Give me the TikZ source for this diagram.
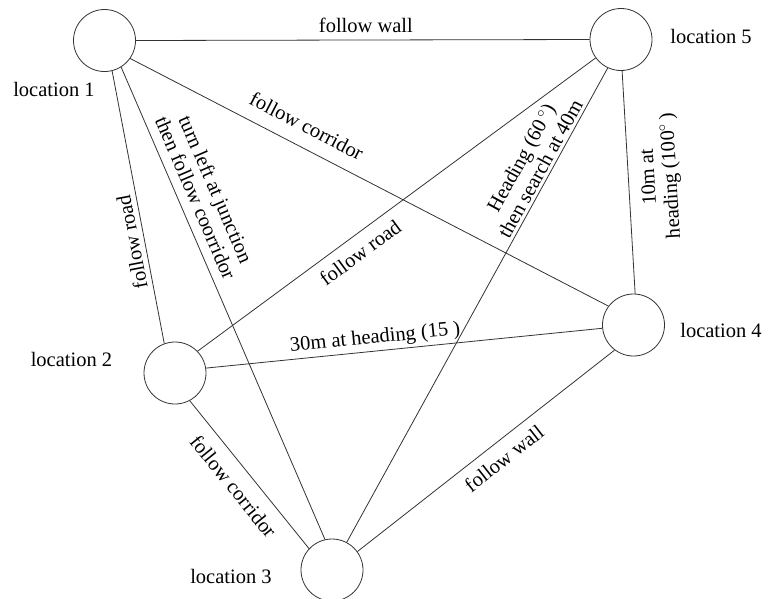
\documentclass[tikz,border=0pt]{standalone}
\usepackage{fontspec}
\setmainfont{Liberation Serif}
\begin{document}
\begin{tikzpicture}[x=1pt,y=-1pt,
  loc/.style={circle,draw=black!80,line width=0.8pt,minimum size=62pt,inner sep=0pt},
  locname/.style={font=\fontsize{20.5}{22}\selectfont,inner sep=0pt},
  edge/.style={draw=black!80,line width=0.8pt},
  lbl/.style={font=\fontsize{20.5}{22}\selectfont,inner sep=2pt,sloped,align=center}]
\useasboundingbox (0,0) rectangle (768,598);
\fill[white] (0,0) rectangle (768,598);
% locations
\node[loc] (l1) at (104.5,40.5) {};
\node[loc] (l5) at (621,39.5) {};
\node[loc] (l4) at (633.5,325) {};
\node[loc] (l2) at (175,373) {};
\node[loc] (l3) at (332,570) {};
\node[locname] (n1) at (54,89.5) {location 1};
\node[locname] (n5) at (711,36) {location 5};
\node[locname] (n4) at (721,330.5) {location 4};
\node[locname] (n2) at (71.5,359.5) {location 2};
\node[locname] (n3) at (231,576) {location 3};
% connectors
\path[edge] (l1.0) -- node[lbl,pos=0.507,above=5pt] {follow wall} (l5.180);
\path[edge] (l2.110.6) -- node[lbl,pos=0.381,above=3pt,allow upside down] {follow road} (l1.-76.7);
\path[edge] (l1.-58.3) -- node[lbl,pos=0.291,above=7pt] {turn left at junction\\then follow coorridor} (l3.103);
\path[edge] (l1.-35.6) -- node[lbl,pos=0.349,above=11.5pt] {follow corridor} (l4.143);
\path[edge] (l2.44.4) -- node[lbl,pos=0.383,below=7.5pt] {follow road} (l5.-144);
\path[edge] (l3.62.5) -- node[lbl,pos=0.777,above=1pt] {Heading (60\,$^{\circ}$)\\then search at 40m} (l5.-115);
\path[edge] (l4.87) -- node[lbl,pos=0.518,below=10pt,allow upside down] {10m at\\heading (100$^{\circ}$\,)} (l5.-88.7);
\path[edge] (l2.9.8) -- node[lbl,pos=0.43,above=1pt] {30m at heading (15\ )} (l4.186);
\path[edge] (l2.-62.6) -- node[lbl,pos=0.495,below=10pt] {follow corridor} (l3.137.5);
\path[edge] (l3.36.3) -- node[lbl,pos=0.529,below=7.4pt] {follow wall} (l4.-127);
\end{tikzpicture}
\end{document}
